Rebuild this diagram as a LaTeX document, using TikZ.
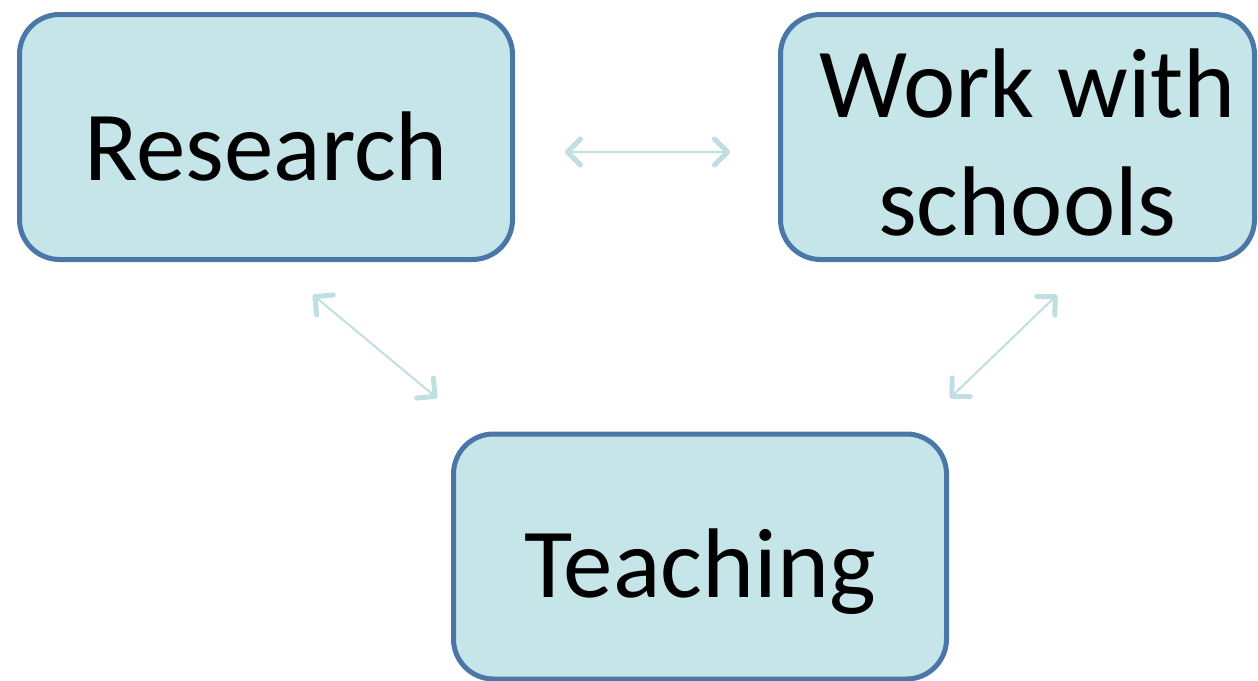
\documentclass[tikz,border=0pt]{standalone}
\usepackage{fontspec}
\setmainfont{Carlito}
\usetikzlibrary{calc,positioning,arrows.meta}
\definecolor{boxfill}{HTML}{C5E5E8}
\definecolor{boxline}{HTML}{4A76A8}
\definecolor{linkcol}{HTML}{C0DFE3}

\begin{document}
\begin{tikzpicture}[x=0.5pt,y=-0.5pt,
  topic/.style={draw=boxline,fill=boxfill,line width=2.5pt,rounded corners=20pt,
    rectangle,minimum width=246.5pt,minimum height=122.5pt,inner sep=0pt,
    text depth=0pt,text height=43pt,
    align=center,font=\fontsize{49.5}{59}\selectfont},
  link/.style={draw=linkcol,line width=1pt,
    {Straight Barb[length=6.5pt,width=13pt,line width=2.5pt,round]}-{Straight Barb[length=6.5pt,width=13pt,line width=2.5pt,round]}}
  ]

  \useasboundingbox (0,0) rectangle (1258,680);

  \node [topic] at (266,137) (research) {Research};
  \node [topic, minimum width=237pt, text height=98pt] at (1017.5,137) (schools) {\hspace*{10pt}Work with\\\hspace*{10pt}schools};
  \node [topic, text height=41pt] at (700,556.5) (teaching) {Teaching};

  %links between the three
  \coordinate (res_out) at ($(research.south)+(47,33)$);
  \coordinate (tea_in_l) at ($(teaching.north)+(-263,-36)$);
  \coordinate (sch_out) at ($(schools.south)+(39.5,33)$);
  \coordinate (tea_in_r) at ($(teaching.north)+(250,-36)$);

  \draw [link, shorten <=25pt, shorten >=24pt] (research.east |- 0,152) -- (schools.west |- 0,152);
  \draw [link] (res_out) -- (tea_in_l |- 0,398) ;
  \draw [link] (sch_out) -- (tea_in_r |- 0,398);

\end{tikzpicture}
\end{document}
